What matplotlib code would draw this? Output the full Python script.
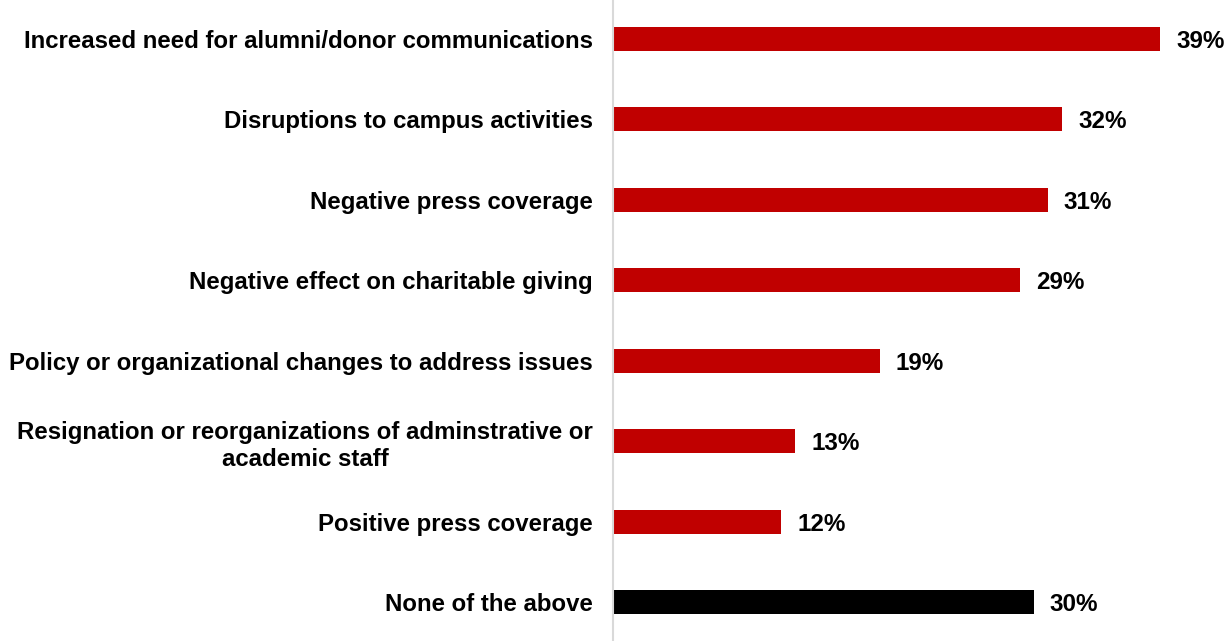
import matplotlib
matplotlib.use("Agg")
import matplotlib.pyplot as plt
from matplotlib.transforms import offset_copy

categories = [
    "Increased need for alumni/donor communications",
    "Disruptions to campus activities",
    "Negative press coverage",
    "Negative effect on charitable giving",
    "Policy or organizational changes to address issues",
    "Resignation or reorganizations of adminstrative or\nacademic staff",
    "Positive press coverage",
    "None of the above",
]
values = [39, 32, 31, 29, 19, 13, 12, 30]
bar_colors = ["#C00000"] * 7 + ["#000000"]

plt.rcParams["font.family"] = ["Liberation Sans", "DejaVu Sans"]

W, H, DPI = 1227, 641, 100
fig = plt.figure(figsize=(W / DPI, H / DPI), dpi=DPI)
fig.patch.set_facecolor("white")

ax_left = 613 / W
ax = fig.add_axes([ax_left, 0, 1 - ax_left, 1])

y = list(range(len(categories)))
ax.barh(y, values, height=0.30, color=bar_colors, edgecolor="none", zorder=2)

ax.set_xlim(0, (W - 613) / 14.03)
ax.set_ylim(len(categories) - 1 + 0.485, -0.485)

for s in ["top", "right", "bottom"]:
    ax.spines[s].set_visible(False)
ax.spines["left"].set_color("#D9D9D9")
ax.spines["left"].set_linewidth(1.5)
ax.set_xticks([])
ax.set_yticks(y)
ax.set_yticklabels(categories, fontsize=17.3, fontweight="bold", color="#000000")
for lbl in ax.get_yticklabels():
    lbl.set_linespacing(1.24)
    lbl.set_multialignment("center")
ax.tick_params(axis="y", length=0, pad=14.5)

for yi, v in zip(y, values):
    ax.text(v, yi, f"{v}%",
            transform=offset_copy(ax.transData, fig=fig, x=16, y=-2.5, units="dots"),
            ha="left", va="center", fontsize=17.4, fontweight="bold", color="#000000")

fig.savefig("out.png", dpi=DPI, facecolor="white")
